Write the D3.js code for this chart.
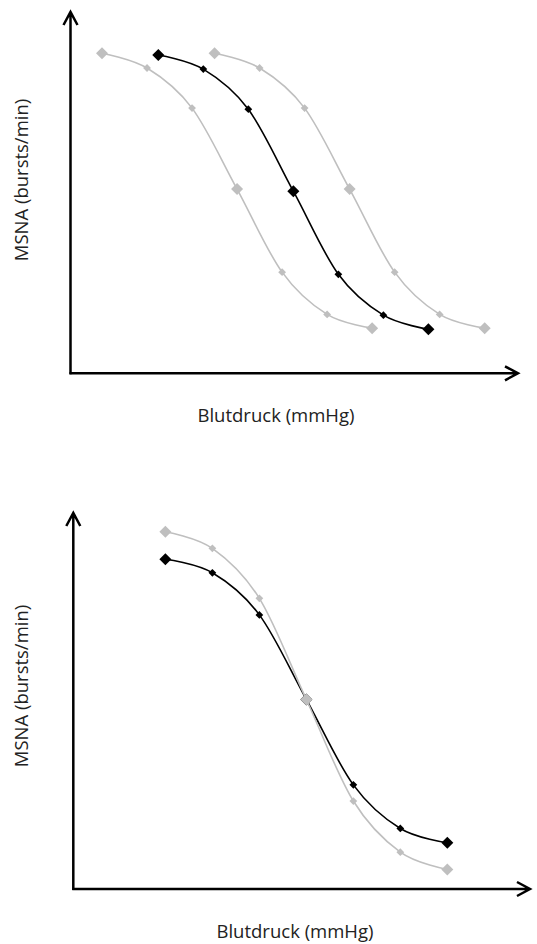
<!DOCTYPE html>
<html>
<head>
<meta charset="utf-8">
<script src="https://cdn.jsdelivr.net/npm/d3@7"></script>
<style>
  body { margin: 0; background: #fff; }
  svg { display: block; }
  text { font-family: "Open Sans", sans-serif; fill: #222; }
</style>
</head>
<body>
<div id="chart"></div>
<script>
// blood pressure steps (mmHg, arbitrary units)
var topLeftX  = [50, 60, 70, 80, 90, 100, 110];
var topBlackX = [62.5, 72.5, 82.5, 92.5, 102.5, 112.5, 122.5];
var topRightX = [75, 85, 95, 105, 115, 125, 135];
// MSNA (relative units)
var topGreyY  = [88.6, 84.5, 73.4, 51, 28, 16.3, 12.5];
var topBlackY = [88.1, 84.2, 73.1, 50.4, 27.4, 16.1, 12.2];

var botX      = [50, 60, 70, 80, 90, 100, 110];
var botGreyY  = [95, 90.6, 77.3, 50.4, 23.4, 9.8, 5.2];
var botBlackY = [87.7, 84.1, 72.9, 50.4, 27.7, 16.1, 12.3];

// big marker at ends and middle
var markerSize = [1, 0, 0, 1, 0, 0, 1];

var xLabel = 'Blutdruck (mmHg)';
var yLabel = 'MSNA (bursts/min)';

var width = 537, height = 944;
var grey = '#bfbfbf';

var svg = d3.select('#chart')
    .append('svg')
    .attr('width', width)
    .attr('height', height);

function zip(xs, ys) {
    return xs.map(function(x, i) { return { x: x, y: ys[i], big: markerSize[i] }; });
}

function drawChart(cfg) {
    var x = d3.scaleLinear().domain(cfg.xDomain).range([cfg.left, cfg.right]);
    var y = d3.scaleLinear().domain([0, 100]).range([cfg.bottom, cfg.top]);
    var g = svg.append('g');

    // axes with open arrow heads
    g.append('path')
        .attr('d', 'M' + cfg.left + ',' + (cfg.bottom + 1) + 'V' + cfg.top +
            'M' + (cfg.left - 7) + ',' + (cfg.top + 13) + 'L' + cfg.left + ',' + cfg.top + 'L' + (cfg.left + 7) + ',' + (cfg.top + 13))
        .attr('fill', 'none').attr('stroke', '#000').attr('stroke-width', 2.5);
    g.append('path')
        .attr('d', 'M' + (cfg.left - 1) + ',' + cfg.bottom + 'H' + cfg.right +
            'M' + (cfg.right - 13) + ',' + (cfg.bottom - 7) + 'L' + cfg.right + ',' + cfg.bottom + 'L' + (cfg.right - 13) + ',' + (cfg.bottom + 7))
        .attr('fill', 'none').attr('stroke', '#000').attr('stroke-width', 2.5);

    var line = d3.line()
        .x(function(d) { return x(d.x); })
        .y(function(d) { return y(d.y); })
        .curve(d3.curveCardinal.tension(0));

    cfg.series.forEach(function(s) {
        var pts = zip(s.x, s.y);
        g.append('path')
            .datum(pts)
            .attr('d', line)
            .attr('fill', 'none')
            .attr('stroke', s.color)
            .attr('stroke-width', 1.6);
        g.selectAll(null)
            .data(pts)
            .enter()
            .append('rect')
            .attr('width', function(d) { return d.big ? 8.5 : 5.5; })
            .attr('height', function(d) { return d.big ? 8.5 : 5.5; })
            .attr('x', function(d) { return -(d.big ? 4.25 : 2.75); })
            .attr('y', function(d) { return -(d.big ? 4.25 : 2.75); })
            .attr('transform', function(d) { return 'translate(' + x(d.x) + ',' + y(d.y) + ') rotate(45)'; })
            .attr('fill', s.color);
    });

    g.append('text')
        .attr('x', cfg.xLabelX)
        .attr('y', cfg.xLabelY)
        .attr('text-anchor', 'middle')
        .style('font-size', '18.5px')
        .text(xLabel);

    g.append('text')
        .attr('transform', 'translate(28,' + cfg.yLabelY + ') rotate(-90)')
        .attr('text-anchor', 'middle')
        .style('font-size', '18.5px')
        .text(yLabel);
}

drawChart({
    left: 70.5, right: 518, top: 12, bottom: 373.3,
    xDomain: [43, 142.4],
    xLabelX: 276, xLabelY: 422, yLabelY: 180,
    series: [
        { x: topLeftX, y: topGreyY, color: grey },
        { x: topRightX, y: topGreyY, color: grey },
        { x: topBlackX, y: topBlackY, color: '#000' }
    ]
});

drawChart({
    left: 73.3, right: 530, top: 513, bottom: 889,
    xDomain: [30.4, 127.6],
    xLabelX: 295, xLabelY: 938, yLabelY: 686,
    series: [
        { x: botX, y: botBlackY, color: '#000' },
        { x: botX, y: botGreyY, color: grey }
    ]
});
</script>
</body>
</html>
